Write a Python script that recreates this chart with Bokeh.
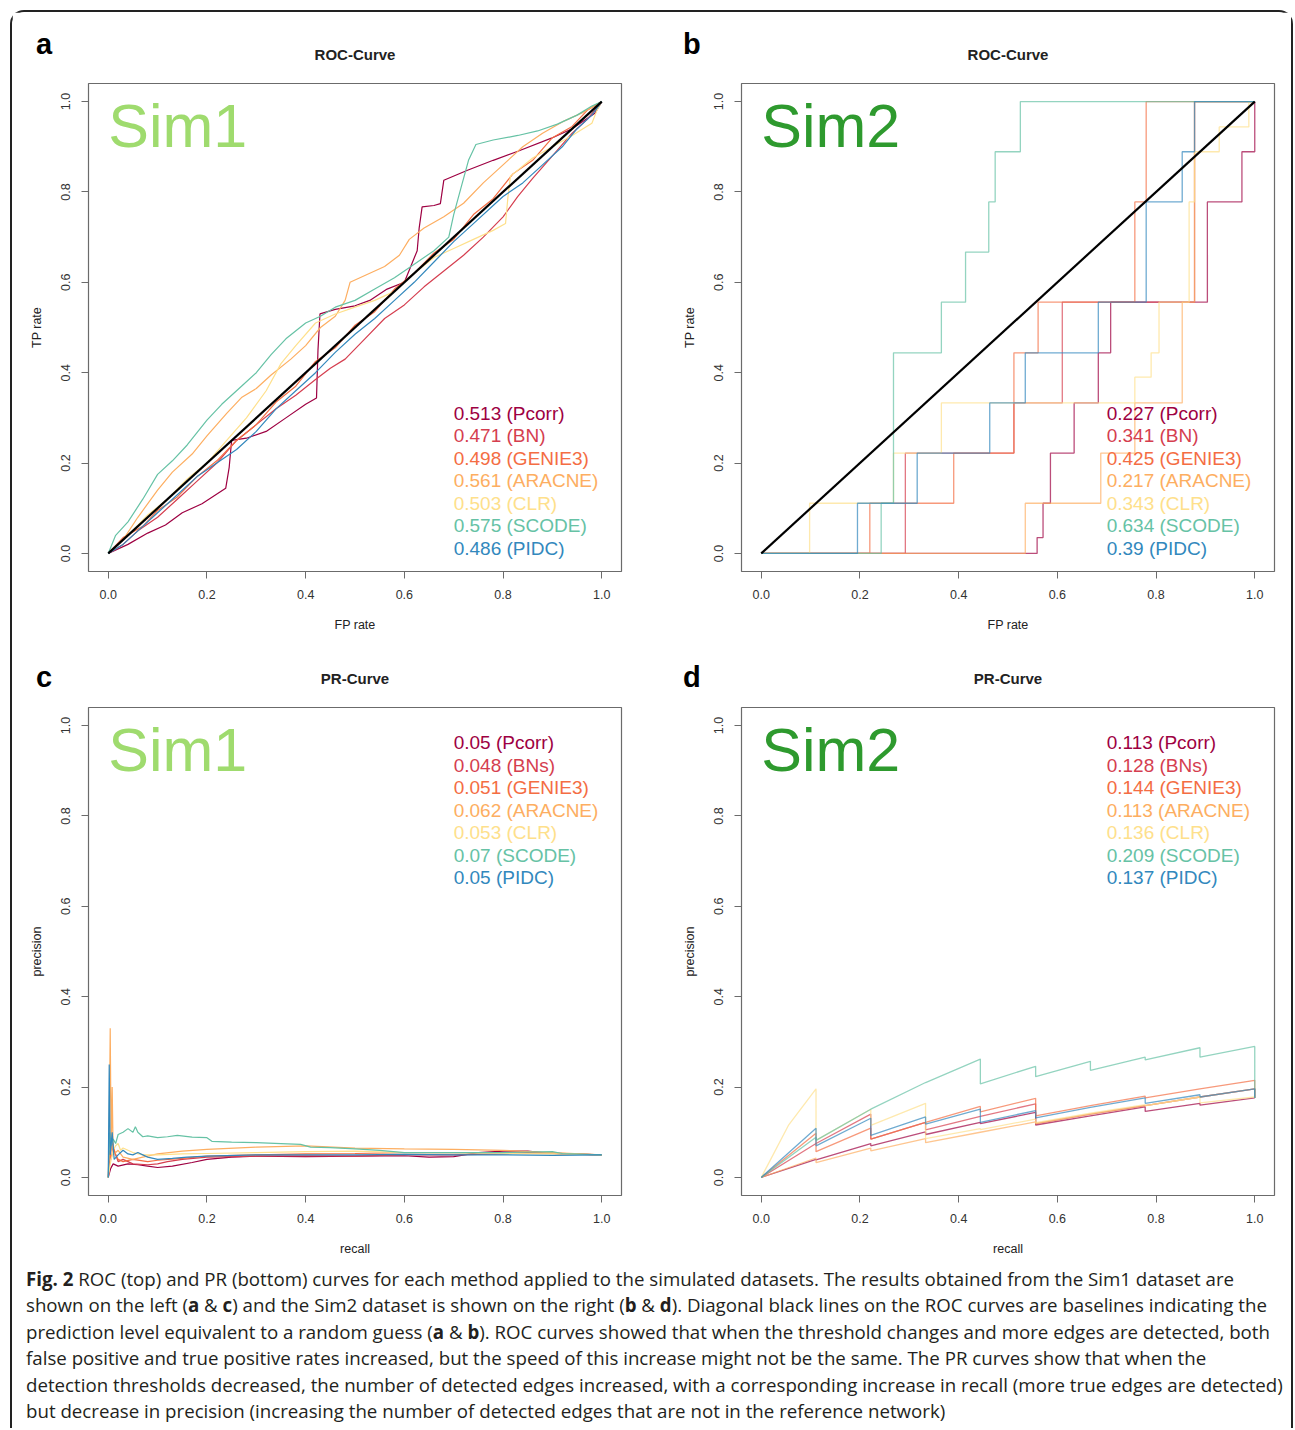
from bokeh.plotting import figure
from bokeh.models import Label, Range1d, FixedTicker, NumeralTickFormatter, Div, GridBox
from bokeh.core.properties import value
from bokeh.embed import file_html
from bokeh.resources import INLINE

# ---------------- data ----------------
methods = ["Pcorr", "BN", "GENIE3", "ARACNE", "CLR", "SCODE", "PIDC"]
methods_pr = ["Pcorr", "BNs", "GENIE3", "ARACNE", "CLR", "SCODE", "PIDC"]
colors = ["#9E0142", "#D53E4F", "#F46D43", "#FDAE61", "#FEE08B", "#66C2A5", "#3288BD"]

auc_sim1 = ["0.513", "0.471", "0.498", "0.561", "0.503", "0.575", "0.486"]
auc_sim2 = ["0.227", "0.341", "0.425", "0.217", "0.343", "0.634", "0.39"]
aupr_sim1 = ["0.05", "0.048", "0.051", "0.062", "0.053", "0.07", "0.05"]
aupr_sim2 = ["0.113", "0.128", "0.144", "0.113", "0.136", "0.209", "0.137"]

ticks = [0.0, 0.2, 0.4, 0.6, 0.8, 1.0]
baseline_x = [0.0, 1.0]
baseline_y = [0.0, 1.0]

# Sim1 ROC (FP rate, TP rate)
sim1_roc_pcorr_fpr = [0, 0.04, 0.08, 0.116, 0.15, 0.19, 0.238, 0.245, 0.25, 0.28, 0.32, 0.36, 0.40, 0.422, 0.425, 0.429, 0.46, 0.50, 0.53, 0.565, 0.60, 0.626, 0.63, 0.636, 0.66, 0.673, 0.68, 0.728, 0.78, 0.83, 0.898, 0.94, 0.986, 1.0]
sim1_roc_pcorr_tpr = [0, 0.02, 0.045, 0.063, 0.09, 0.11, 0.144, 0.19, 0.25, 0.255, 0.27, 0.30, 0.33, 0.344, 0.45, 0.53, 0.54, 0.548, 0.56, 0.585, 0.60, 0.67, 0.72, 0.767, 0.77, 0.774, 0.826, 0.848, 0.87, 0.89, 0.919, 0.94, 0.974, 1.0]
sim1_roc_bn_fpr = [0, 0.03, 0.06, 0.10, 0.14, 0.18, 0.22, 0.26, 0.30, 0.34, 0.38, 0.42, 0.45, 0.48, 0.52, 0.56, 0.60, 0.64, 0.68, 0.72, 0.76, 0.80, 0.83, 0.86, 0.90, 0.94, 0.97, 1.0]
sim1_roc_bn_tpr = [0, 0.02, 0.05, 0.08, 0.12, 0.16, 0.20, 0.25, 0.285, 0.32, 0.35, 0.385, 0.41, 0.43, 0.475, 0.52, 0.55, 0.59, 0.625, 0.66, 0.70, 0.745, 0.79, 0.83, 0.88, 0.93, 0.96, 1.0]
sim1_roc_genie3_fpr = [0, 0.03, 0.07, 0.10, 0.14, 0.18, 0.22, 0.26, 0.30, 0.34, 0.38, 0.42, 0.46, 0.50, 0.54, 0.58, 0.62, 0.66, 0.70, 0.74, 0.78, 0.82, 0.86, 0.90, 0.94, 0.97, 1.0]
sim1_roc_genie3_tpr = [0, 0.035, 0.06, 0.095, 0.125, 0.17, 0.205, 0.25, 0.285, 0.335, 0.37, 0.425, 0.455, 0.505, 0.535, 0.585, 0.62, 0.665, 0.695, 0.75, 0.785, 0.84, 0.87, 0.92, 0.945, 0.98, 1.0]
sim1_roc_aracne_fpr = [0, 0.03, 0.06, 0.10, 0.13, 0.17, 0.20, 0.24, 0.27, 0.30, 0.33, 0.37, 0.40, 0.43, 0.46, 0.48, 0.49, 0.52, 0.56, 0.59, 0.61, 0.64, 0.68, 0.72, 0.76, 0.80, 0.84, 0.88, 0.92, 0.96, 1.0]
sim1_roc_aracne_tpr = [0, 0.03, 0.08, 0.14, 0.18, 0.22, 0.26, 0.31, 0.345, 0.365, 0.395, 0.43, 0.46, 0.50, 0.525, 0.56, 0.60, 0.615, 0.635, 0.66, 0.695, 0.72, 0.745, 0.775, 0.82, 0.86, 0.90, 0.93, 0.955, 0.975, 1.0]
sim1_roc_clr_fpr = [0, 0.04, 0.08, 0.12, 0.16, 0.20, 0.24, 0.28, 0.32, 0.35, 0.38, 0.42, 0.46, 0.50, 0.54, 0.58, 0.62, 0.66, 0.70, 0.74, 0.78, 0.805, 0.81, 0.815, 0.86, 0.90, 0.94, 0.98, 0.99, 1.0]
sim1_roc_clr_tpr = [0, 0.04, 0.085, 0.12, 0.165, 0.20, 0.25, 0.30, 0.36, 0.42, 0.46, 0.51, 0.53, 0.545, 0.56, 0.58, 0.62, 0.655, 0.675, 0.695, 0.715, 0.73, 0.79, 0.835, 0.875, 0.90, 0.925, 0.952, 0.98, 1.0]
sim1_roc_scode_fpr = [0, 0.015, 0.04, 0.07, 0.10, 0.13, 0.16, 0.20, 0.23, 0.27, 0.30, 0.33, 0.36, 0.40, 0.43, 0.46, 0.50, 0.54, 0.58, 0.62, 0.66, 0.69, 0.70, 0.715, 0.73, 0.745, 0.78, 0.83, 0.87, 0.91, 0.95, 0.98, 1.0]
sim1_roc_scode_tpr = [0, 0.04, 0.07, 0.12, 0.175, 0.205, 0.24, 0.295, 0.33, 0.37, 0.40, 0.44, 0.475, 0.51, 0.525, 0.545, 0.56, 0.585, 0.61, 0.64, 0.67, 0.70, 0.75, 0.81, 0.87, 0.905, 0.915, 0.925, 0.935, 0.95, 0.97, 0.99, 1.0]
sim1_roc_pidc_fpr = [0, 0.03, 0.06, 0.10, 0.14, 0.18, 0.22, 0.26, 0.30, 0.34, 0.38, 0.42, 0.46, 0.50, 0.54, 0.58, 0.62, 0.66, 0.70, 0.74, 0.78, 0.80, 0.84, 0.88, 0.92, 0.95, 0.98, 1.0]
sim1_roc_pidc_tpr = [0, 0.02, 0.05, 0.09, 0.13, 0.17, 0.20, 0.23, 0.27, 0.32, 0.36, 0.40, 0.445, 0.485, 0.52, 0.56, 0.60, 0.645, 0.69, 0.73, 0.77, 0.79, 0.82, 0.86, 0.90, 0.94, 0.97, 1.0]

# Sim2 ROC
sim2_roc_pcorr_fpr = [0, 0.559, 0.559, 0.571, 0.571, 0.586, 0.586, 0.634, 0.634, 0.683, 0.683, 0.708, 0.708, 0.904, 0.904, 0.974, 0.974, 1.0, 1.0]
sim2_roc_pcorr_tpr = [0, 0, 0.035, 0.035, 0.111, 0.111, 0.222, 0.222, 0.333, 0.333, 0.444, 0.444, 0.556, 0.556, 0.778, 0.778, 0.889, 0.889, 1.0]
sim2_roc_bn_fpr = [0, 0.292, 0.292, 0.512, 0.512, 0.61, 0.61, 0.878, 0.878, 1.0]
sim2_roc_bn_tpr = [0, 0, 0.222, 0.222, 0.333, 0.333, 0.556, 0.556, 1.0, 1.0]
sim2_roc_genie3_fpr = [0, 0.22, 0.22, 0.39, 0.39, 0.512, 0.512, 0.561, 0.561, 0.757, 0.757, 0.78, 0.78, 1.0]
sim2_roc_genie3_tpr = [0, 0, 0.111, 0.111, 0.222, 0.222, 0.444, 0.444, 0.556, 0.556, 0.778, 0.778, 1.0, 1.0]
sim2_roc_aracne_fpr = [0, 0.535, 0.535, 0.688, 0.688, 0.757, 0.757, 0.853, 0.853, 0.878, 0.878, 1.0]
sim2_roc_aracne_tpr = [0, 0, 0.111, 0.111, 0.222, 0.222, 0.333, 0.333, 0.556, 0.556, 1.0, 1.0]
sim2_roc_clr_fpr = [0, 0.098, 0.098, 0.268, 0.268, 0.365, 0.365, 0.757, 0.757, 0.79, 0.79, 0.806, 0.806, 0.867, 0.867, 0.878, 0.878, 0.928, 0.928, 0.988, 0.988, 1.0]
sim2_roc_clr_tpr = [0, 0, 0.111, 0.111, 0.222, 0.222, 0.333, 0.333, 0.39, 0.39, 0.444, 0.444, 0.556, 0.556, 0.778, 0.778, 0.889, 0.889, 0.944, 0.944, 1.0, 1.0]
sim2_roc_scode_fpr = [0, 0.243, 0.243, 0.268, 0.268, 0.365, 0.365, 0.414, 0.414, 0.461, 0.461, 0.474, 0.474, 0.525, 0.525, 1.0]
sim2_roc_scode_tpr = [0, 0, 0.111, 0.111, 0.444, 0.444, 0.556, 0.556, 0.667, 0.667, 0.778, 0.778, 0.889, 0.889, 1.0, 1.0]
sim2_roc_pidc_fpr = [0, 0.195, 0.195, 0.316, 0.316, 0.463, 0.463, 0.535, 0.535, 0.683, 0.683, 0.78, 0.78, 0.853, 0.853, 0.878, 0.878, 1.0]
sim2_roc_pidc_tpr = [0, 0, 0.111, 0.111, 0.222, 0.222, 0.333, 0.333, 0.444, 0.444, 0.556, 0.556, 0.778, 0.778, 0.889, 0.889, 1.0, 1.0]

# Sim1 PR (recall, precision)
sim1_pr_pcorr_rec = [0, 0.005, 0.01, 0.02, 0.04, 0.06, 0.08, 0.10, 0.13, 0.17, 0.20, 0.25, 0.30, 0.40, 0.50, 0.60, 0.65, 0.70, 0.75, 0.80, 0.85, 0.88, 0.92, 1.0]
sim1_pr_pcorr_prec = [0, 0.02, 0.03, 0.025, 0.03, 0.028, 0.025, 0.022, 0.025, 0.033, 0.04, 0.045, 0.047, 0.046, 0.047, 0.048, 0.045, 0.046, 0.055, 0.058, 0.058, 0.055, 0.052, 0.05]
sim1_pr_bn_rec = [0, 0.004, 0.008, 0.012, 0.02, 0.03, 0.05, 0.08, 0.10, 0.12, 0.15, 0.20, 0.30, 0.40, 0.50, 0.60, 0.70, 0.80, 0.85, 0.90, 1.0]
sim1_pr_bn_prec = [0, 0.05, 0.08, 0.06, 0.035, 0.04, 0.03, 0.028, 0.03, 0.035, 0.04, 0.045, 0.047, 0.048, 0.047, 0.05, 0.05, 0.052, 0.055, 0.054, 0.05]
sim1_pr_genie3_rec = [0, 0.003, 0.006, 0.01, 0.015, 0.02, 0.03, 0.05, 0.08, 0.10, 0.15, 0.20, 0.30, 0.40, 0.50, 0.60, 0.70, 0.80, 0.90, 1.0]
sim1_pr_genie3_prec = [0, 0.06, 0.04, 0.07, 0.05, 0.04, 0.035, 0.04, 0.035, 0.038, 0.042, 0.047, 0.05, 0.052, 0.053, 0.055, 0.055, 0.054, 0.053, 0.05]
sim1_pr_aracne_rec = [0, 0.002, 0.004, 0.006, 0.008, 0.01, 0.02, 0.03, 0.05, 0.07, 0.10, 0.15, 0.20, 0.30, 0.40, 0.50, 0.60, 0.70, 0.80, 0.90, 1.0]
sim1_pr_aracne_prec = [0, 0.10, 0.33, 0.06, 0.20, 0.05, 0.06, 0.045, 0.04, 0.045, 0.052, 0.058, 0.062, 0.067, 0.07, 0.065, 0.063, 0.062, 0.06, 0.055, 0.05]
sim1_pr_clr_rec = [0, 0.004, 0.01, 0.015, 0.02, 0.025, 0.03, 0.05, 0.07, 0.10, 0.15, 0.20, 0.30, 0.40, 0.50, 0.60, 0.70, 0.80, 0.90, 1.0]
sim1_pr_clr_prec = [0, 0.03, 0.06, 0.07, 0.075, 0.06, 0.065, 0.055, 0.05, 0.05, 0.052, 0.053, 0.055, 0.057, 0.058, 0.055, 0.055, 0.053, 0.052, 0.05]
sim1_pr_scode_rec = [0, 0.003, 0.006, 0.01, 0.015, 0.02, 0.03, 0.04, 0.05, 0.055, 0.06, 0.07, 0.08, 0.10, 0.12, 0.14, 0.17, 0.20, 0.21, 0.25, 0.30, 0.35, 0.39, 0.41, 0.45, 0.50, 0.55, 0.60, 0.70, 0.80, 0.90, 0.92, 1.0]
sim1_pr_scode_prec = [0, 0.10, 0.07, 0.085, 0.075, 0.095, 0.10, 0.108, 0.10, 0.112, 0.10, 0.09, 0.092, 0.088, 0.09, 0.093, 0.089, 0.088, 0.08, 0.078, 0.077, 0.075, 0.073, 0.067, 0.066, 0.063, 0.06, 0.055, 0.055, 0.055, 0.057, 0.053, 0.05]
sim1_pr_pidc_rec = [0, 0.002, 0.004, 0.008, 0.012, 0.02, 0.03, 0.04, 0.05, 0.06, 0.07, 0.08, 0.10, 0.13, 0.16, 0.20, 0.30, 0.40, 0.50, 0.60, 0.70, 0.80, 0.90, 1.0]
sim1_pr_pidc_prec = [0, 0.25, 0.05, 0.10, 0.04, 0.05, 0.06, 0.052, 0.05, 0.055, 0.05, 0.045, 0.04, 0.042, 0.045, 0.047, 0.05, 0.05, 0.05, 0.051, 0.05, 0.05, 0.049, 0.05]

# Sim2 PR
sim2_pr_pcorr_rec = [0, 0.111, 0.111, 0.222, 0.222, 0.333, 0.333, 0.444, 0.444, 0.556, 0.556, 0.667, 0.778, 0.778, 0.889, 0.889, 1.0]
sim2_pr_pcorr_prec = [0, 0.040, 0.039, 0.075, 0.070, 0.101, 0.095, 0.122, 0.119, 0.144, 0.116, 0.136, 0.156, 0.146, 0.164, 0.160, 0.176]
sim2_pr_bn_rec = [0, 0.111, 0.222, 0.222, 0.333, 0.333, 0.444, 0.556, 0.556, 0.667, 0.778, 0.889, 1.0, 1.0]
sim2_pr_bn_prec = [0, 0.075, 0.140, 0.085, 0.122, 0.105, 0.135, 0.163, 0.119, 0.140, 0.159, 0.178, 0.196, 0.176]
sim2_pr_genie3_rec = [0, 0.111, 0.111, 0.222, 0.222, 0.333, 0.444, 0.444, 0.556, 0.556, 0.667, 0.778, 0.778, 0.889, 1.0, 1.0]
sim2_pr_genie3_prec = [0, 0.098, 0.057, 0.109, 0.085, 0.122, 0.157, 0.145, 0.175, 0.136, 0.159, 0.180, 0.176, 0.196, 0.215, 0.176]
sim2_pr_aracne_rec = [0, 0.111, 0.111, 0.222, 0.222, 0.333, 0.333, 0.444, 0.556, 0.556, 0.667, 0.778, 0.889, 1.0, 1.0]
sim2_pr_aracne_prec = [0, 0.043, 0.033, 0.065, 0.059, 0.086, 0.077, 0.100, 0.123, 0.119, 0.140, 0.159, 0.178, 0.196, 0.176]
sim2_pr_clr_rec = [0, 0.055, 0.111, 0.111, 0.222, 0.222, 0.333, 0.333, 0.444, 0.444, 0.556, 0.556, 0.667, 0.778, 0.778, 0.889, 0.889, 1.0, 1.0]
sim2_pr_clr_prec = [0, 0.115, 0.196, 0.082, 0.151, 0.115, 0.164, 0.086, 0.108, 0.106, 0.129, 0.121, 0.142, 0.161, 0.159, 0.178, 0.165, 0.178, 0.176]
sim2_pr_scode_rec = [0, 0.111, 0.111, 0.222, 0.333, 0.444, 0.444, 0.556, 0.556, 0.667, 0.667, 0.778, 0.778, 0.889, 0.889, 1.0, 1.0]
sim2_pr_scode_prec = [0, 0.089, 0.082, 0.151, 0.210, 0.262, 0.207, 0.246, 0.223, 0.257, 0.237, 0.266, 0.260, 0.287, 0.266, 0.290, 0.176]
sim2_pr_pidc_rec = [0, 0.111, 0.111, 0.222, 0.222, 0.333, 0.333, 0.444, 0.444, 0.556, 0.556, 0.667, 0.778, 0.778, 0.889, 0.889, 1.0, 1.0]
sim2_pr_pidc_prec = [0, 0.109, 0.070, 0.131, 0.093, 0.134, 0.118, 0.151, 0.122, 0.148, 0.132, 0.155, 0.176, 0.164, 0.183, 0.178, 0.196, 0.176]

sim1_roc = [(sim1_roc_pcorr_fpr, sim1_roc_pcorr_tpr), (sim1_roc_bn_fpr, sim1_roc_bn_tpr),
            (sim1_roc_genie3_fpr, sim1_roc_genie3_tpr), (sim1_roc_aracne_fpr, sim1_roc_aracne_tpr),
            (sim1_roc_clr_fpr, sim1_roc_clr_tpr), (sim1_roc_scode_fpr, sim1_roc_scode_tpr),
            (sim1_roc_pidc_fpr, sim1_roc_pidc_tpr)]
sim2_roc = [(sim2_roc_pcorr_fpr, sim2_roc_pcorr_tpr), (sim2_roc_bn_fpr, sim2_roc_bn_tpr),
            (sim2_roc_genie3_fpr, sim2_roc_genie3_tpr), (sim2_roc_aracne_fpr, sim2_roc_aracne_tpr),
            (sim2_roc_clr_fpr, sim2_roc_clr_tpr), (sim2_roc_scode_fpr, sim2_roc_scode_tpr),
            (sim2_roc_pidc_fpr, sim2_roc_pidc_tpr)]
sim1_pr = [(sim1_pr_pcorr_rec, sim1_pr_pcorr_prec), (sim1_pr_bn_rec, sim1_pr_bn_prec),
           (sim1_pr_genie3_rec, sim1_pr_genie3_prec), (sim1_pr_aracne_rec, sim1_pr_aracne_prec),
           (sim1_pr_clr_rec, sim1_pr_clr_prec), (sim1_pr_scode_rec, sim1_pr_scode_prec),
           (sim1_pr_pidc_rec, sim1_pr_pidc_prec)]
sim2_pr = [(sim2_pr_pcorr_rec, sim2_pr_pcorr_prec), (sim2_pr_bn_rec, sim2_pr_bn_prec),
           (sim2_pr_genie3_rec, sim2_pr_genie3_prec), (sim2_pr_aracne_rec, sim2_pr_aracne_prec),
           (sim2_pr_clr_rec, sim2_pr_clr_prec), (sim2_pr_scode_rec, sim2_pr_scode_prec),
           (sim2_pr_pidc_rec, sim2_pr_pidc_prec)]

FONT = "Liberation Sans"


def make_panel(title, xlab, ylab, sim_text, sim_color, curves, line_width, line_alpha,
               legend_vals, legend_names, legend_y, diagonal, width, height, top, bottom, left, right):
    p = figure(width=width, height=height, x_range=Range1d(-0.04, 1.04), y_range=Range1d(-0.04, 1.04),
               output_backend="svg", toolbar_location=None,
               min_border_left=left, min_border_right=right, min_border_top=top, min_border_bottom=bottom)
    p.title.text = title
    p.title.align = "center"
    p.title.text_font = FONT
    p.title.text_font_size = "15px"
    p.title.text_font_style = "bold"
    p.title.text_color = "#222222"
    p.title.standoff = 42
    p.grid.visible = False
    p.outline_line_color = "#6b6b6b"
    p.outline_line_width = 1.2
    p.background_fill_color = "white"
    p.border_fill_color = "white"
    for ax in (p.xaxis[0], p.yaxis[0]):
        ax.ticker = FixedTicker(ticks=ticks)
        ax.formatter = NumeralTickFormatter(format="0.0")
        ax.bounds = (0, 1)
        ax.axis_line_color = "#6b6b6b"
        ax.major_tick_line_color = "#6b6b6b"
        ax.major_tick_out = 7
        ax.major_tick_in = 0
        ax.minor_tick_line_color = None
        ax.major_label_text_font = FONT
        ax.major_label_text_font_size = "12.5px"
        ax.major_label_text_color = "#333333"
        ax.axis_label_text_font = FONT
        ax.axis_label_text_font_size = "12.5px"
        ax.axis_label_text_font_style = "normal"
        ax.axis_label_text_color = "#222222"
    p.xaxis.axis_label = xlab
    p.yaxis.axis_label = ylab
    p.xaxis.major_label_standoff = 11
    p.xaxis.axis_label_standoff = 16
    p.yaxis.major_label_orientation = "vertical"
    p.yaxis.major_label_standoff = 11
    p.yaxis.axis_label_standoff = 15

    for (xs, ys), c in zip(curves, colors):
        p.line(xs, ys, line_color=c, line_width=line_width, line_alpha=line_alpha)
    if diagonal:
        p.line(baseline_x, baseline_y, line_color="black", line_width=2.2)

    p.add_layout(Label(x=0.0, y=0.945, text=sim_text, text_color=sim_color, text_font=FONT,
                       text_font_size="61px", text_baseline="middle", text_align="left"))
    labels = [f"{v} ({n})" for v, n in zip(legend_vals, legend_names)]
    p.text(x=[0.70] * len(labels), y=legend_y, text=labels, text_color=colors,
           text_font=value(FONT), text_font_size=value("19px"),
           text_baseline="middle", text_align="left")
    return p


def letter_div(ch, top, left):
    return Div(text=ch, width=26, height=32, margin=(top, 0, 0, left), align="start",
               styles={"font-family": FONT, "font-size": "29px", "font-weight": "bold",
                       "line-height": "29px", "color": "#000000"})


roc_legend_y = [0.31, 0.26, 0.211, 0.161, 0.111, 0.061, 0.011]
pr_legend_y = [0.962, 0.912, 0.863, 0.813, 0.763, 0.713, 0.663]

pa = make_panel("ROC-Curve", "FP rate", "TP rate", "Sim1", "#9FDB6E", sim1_roc, 1.2, 1.0,
                auc_sim1, methods, roc_legend_y, True, 653, 631, 71, 72, 76, 44)
pb = make_panel("ROC-Curve", "FP rate", "TP rate", "Sim2", "#2E9A2E", sim2_roc, 1.3, 0.7,
                auc_sim2, methods, roc_legend_y, True, 626, 631, 71, 72, 76, 17)
pc = make_panel("PR-Curve", "recall", "precision", "Sim1", "#9FDB6E", sim1_pr, 1.2, 1.0,
                aupr_sim1, methods_pr, pr_legend_y, False, 653, 620, 64, 68, 76, 44)
pd_ = make_panel("PR-Curve", "recall", "precision", "Sim2", "#2E9A2E", sim2_pr, 1.3, 0.7,
                 aupr_sim2, methods_pr, pr_legend_y, False, 626, 620, 64, 68, 76, 17)

caption_html = (
    "<div style=\"font-family:'Open Sans';font-size:18.7px;line-height:26.4px;color:#231f20;"
    "white-space:nowrap;padding-left:14px;padding-top:3px;\">"
    "<b>Fig. 2</b> ROC (top) and PR (bottom) curves for each method applied to the simulated datasets. The results obtained from the Sim1 dataset are<br>"
    "shown on the left (<b>a</b> &amp; <b>c</b>) and the Sim2 dataset is shown on the right (<b>b</b> &amp; <b>d</b>). Diagonal black lines on the ROC curves are baselines indicating the<br>"
    "prediction level equivalent to a random guess (<b>a</b> &amp; <b>b</b>). ROC curves showed that when the threshold changes and more edges are detected, both<br>"
    "false positive and true positive rates increased, but the speed of this increase might not be the same. The PR curves show that when the<br>"
    "detection thresholds decreased, the number of detected edges increased, with a corresponding increase in recall (more true edges are detected)<br>"
    "but decrease in precision (increasing the number of detected edges that are not in the reference network)"
    "</div>"
)
caption = Div(text=caption_html, width=1279, height=165, margin=(0, 0, 0, 0))

grid = GridBox(children=[
    (pa, 0, 0), (pb, 0, 1), (pc, 1, 0), (pd_, 1, 1), (caption, 2, 0, 1, 2),
    (letter_div("a", 18, 24), 0, 0), (letter_div("b", 18, 18), 0, 1),
    (letter_div("c", 20, 24), 1, 0), (letter_div("d", 20, 18), 1, 1),
], margin=(10, 0, 0, 10),
    styles={"border": "2px solid #222222", "border-bottom": "none",
            "border-radius": "14px 14px 0 0", "background": "white"})

open("out.html", "w").write(file_html(grid, INLINE))
